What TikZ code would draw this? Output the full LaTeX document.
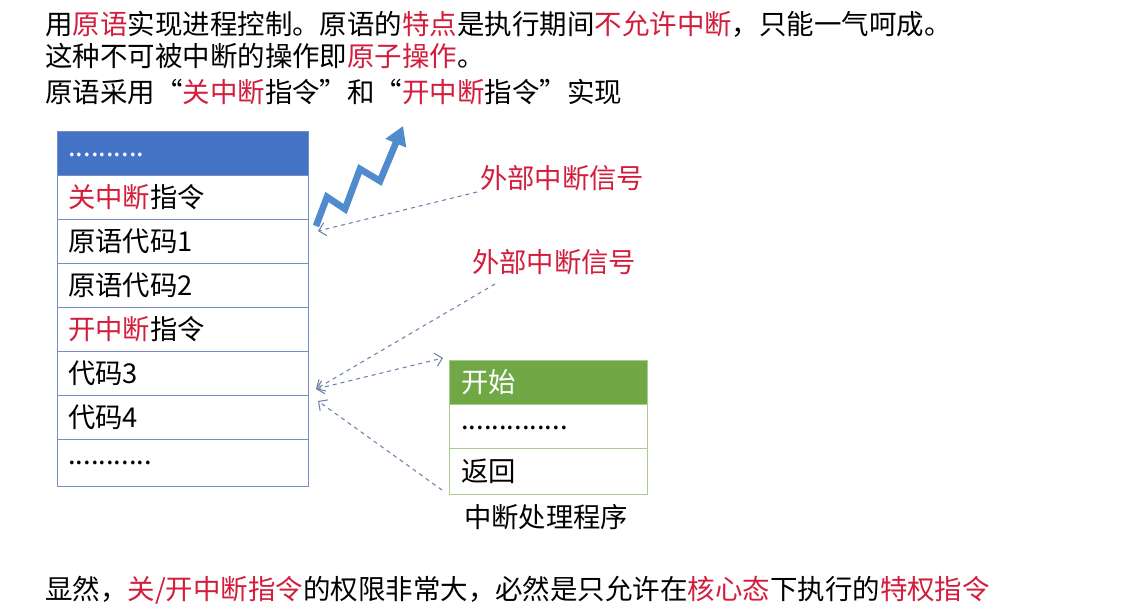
\documentclass[tikz,border=0pt]{standalone}
\usepackage{fontspec}
\setmainfont{Noto Sans CJK SC}
\usetikzlibrary{arrows.meta}
\definecolor{hl}{RGB}{210,30,60}
\definecolor{hdrblue}{RGB}{68,114,196}
\definecolor{hdrgreen}{RGB}{112,168,70}
\definecolor{lineblue}{RGB}{120,140,200}
\definecolor{arrowc}{RGB}{110,130,170}
\definecolor{bolt}{RGB}{80,140,205}
\newcommand{\R}[1]{\textcolor{hl}{#1}}
\begin{document}
\begin{tikzpicture}[x=0.75pt,y=-0.75pt,
  txt/.style={anchor=west,inner sep=0pt,font=\fontsize{20.6}{23}\selectfont},
  cell/.style={draw=lineblue,line width=0.6pt,minimum width=188.25pt,minimum height=33pt,anchor=north west,inner sep=0pt},
  gcell/.style={draw=hdrgreen!60,line width=0.6pt,minimum width=148.5pt,minimum height=33pt,anchor=north west,inner sep=0pt},
  ctext/.style={anchor=west,inner sep=0pt,font=\fontsize{20.5}{23}\selectfont},
  sig/.style={dashed,arrowc,line width=0.8pt,-{Straight Barb[length=5pt]}}]
\useasboundingbox (0,0) rectangle (1141,616);
\fill[white] (0,0) rectangle (1141,616);
\node[txt] (t1) at (45,24) {用\R{原语}实现进程控制。原语的\R{特点}是执行期间\R{不允许中断}，只能一气呵成。};
\node[txt] (t2) at (45,56) {这种不可被中断的操作即\R{原子操作}。};
\node[txt] (t3) at (45,92) {原语采用“\R{关中断}指令”和“\R{开中断}指令”实现};
% left table
\node[cell,fill=hdrblue,minimum height=33pt] (h) at (57,131) {};
\node[ctext,text=white] at (68,155) {..........};
\foreach \i/\t in {1/{\R{关中断}指令},2/{原语代码1},3/{原语代码2},4/{\R{开中断}指令},5/{代码3},6/{代码4}}{
  \node[cell] (r\i) at (57,131+44*\i) {};
  \node[ctext] at (68,153+44*\i) {\t};
}
\node[cell,minimum height=35pt] (r7) at (57,439) {};
\node[ctext] at (68,463) {...........};
% right table
\node[gcell,fill=hdrgreen] (g0) at (449,360) {};
\node[ctext,text=white] at (461,382) {开始};
\node[gcell] (g1) at (449,404) {};
\node[ctext] at (461,428) {..............};
\node[gcell,minimum height=34.5pt] (g2) at (449,448) {};
\node[ctext] at (461,471) {返回};
\node[ctext] (cap) at (464,517) {中断处理程序};
% bolt
\draw[bolt,line width=5pt,-{Triangle[length=14pt,width=16pt]}] (316,226) -- (327,197) -- (345,209) -- (360,169) -- (380,181) -- (403,126);
% signals
\node[ctext,text=hl] (s1) at (480,178) {外部中断信号};
\node[ctext,text=hl] (s2) at (472,262) {外部中断信号};
\coordinate (a1) at (477,192);
\coordinate (p1) at (318,231);
\coordinate (a2) at (495,284);
\coordinate (p2) at (316,389);
\coordinate (p3) at (443,358);
\coordinate (a4) at (442,490);
\coordinate (p4) at (318,401);
\draw[sig] (a1) -- (p1);
\draw[sig] (a2) -- (p2);
\draw[sig,{Straight Barb[length=5pt]}-{Straight Barb[length=5pt]}] (p2) -- (p3);
\draw[sig] (a4) -- (p4);
\node[txt] (b) at (45,590) {显然，\R{关/开中断指令}的权限非常大，必然是只允许在\R{核心态}下执行的\R{特权指令}};
\end{tikzpicture}
\end{document}
